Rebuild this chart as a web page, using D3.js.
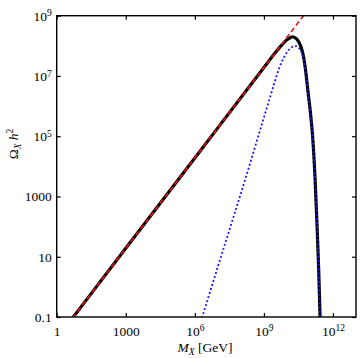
<!DOCTYPE html>
<html><head><meta charset="utf-8">
<script src="https://cdn.jsdelivr.net/npm/d3@7"></script>
<style>
html,body{margin:0;padding:0;background:#fff;}
svg{display:block;}
text{font-family:"Liberation Serif","DejaVu Serif",serif;fill:#000;}
</style></head>
<body>
<svg id="chart" width="360" height="358"></svg>
<script>
// ---- data ----
const xTicks = [1, 1e3, 1e6, 1e9, 1e12];
const xTickLabels = [["1",""],["1000",""],["10","6"],["10","9"],["10","12"]];
const yTicks = [0.1, 10, 1000, 1e5, 1e7, 1e9];
const yTickLabels = [["0.1",""],["10",""],["1000",""],["10","5"],["10","7"],["10","9"]];

// total relic abundance (black)
const totalM = [4, 1e3, 1e6, 1e9, 3.16e9, 6.3e9, 1e10, 1.32e10, 1.74e10, 2.63e10, 4.07e10, 5.01e10, 6.31e10, 8.32e10, 1.05e11, 1.32e11, 1.68e11, 2.04e11, 2.4e11, 2.75e11, 3.0e11];
const totalOmega = [0.076, 19, 1.9e4, 1.9e7, 6.0e7, 1.12e8, 1.58e8, 1.82e8, 2.0e8, 1.7e8, 9.3e7, 5.25e7, 1.78e7, 2.8e6, 6.0e5, 8.9e4, 3.5e3, 102, 3.5, 0.098, 0.016];

// power-law approximation (red dashed)
const approxM = [3, 5.25e10];
const approxOmega = [0.057, 1.0e9];

// second contribution (blue dotted)
const partM = [1.58e6, 2.1e6, 1e7, 4.47e7, 2.0e8, 9.3e8, 1.7e9, 2.8e9, 4.7e9, 7.9e9, 1.26e10, 1.86e10, 2.63e10, 3.55e10, 4.8e10, 6.31e10, 8.32e10, 1.05e11, 1.32e11, 1.68e11, 2.04e11, 2.4e11, 2.75e11, 3.0e11];
const partOmega = [0.05, 0.1, 4.7, 178, 7.1e3, 3.5e5, 1.58e6, 5.6e6, 1.9e7, 4.5e7, 7.6e7, 9.5e7, 9.8e7, 7.9e7, 4.8e7, 1.66e7, 2.7e6, 6.0e5, 8.9e4, 3.5e3, 102, 3.5, 0.098, 0.016];

// ---- layout ----
const L = 56.7, R = 356, T = 15.7, B = 317;
const svg = d3.select("#chart");
const x = d3.scaleLog().domain([1, 1e13]).range([L, R]);
const y = d3.scaleLog().domain([0.1, 1e9]).range([B, T]);

svg.append("clipPath").attr("id","clip").append("rect")
  .attr("x", L).attr("y", T).attr("width", R-L).attr("height", B-T);

const plot = svg.append("g").attr("clip-path","url(#clip)");
const line = d3.line().x(d => x(d[0])).y(d => y(d[1])).curve(d3.curveMonotoneX);
const zip = (a,b) => a.map((v,i) => [v, b[i]]);

plot.append("path").datum(zip(totalM, totalOmega)).attr("d", line)
  .attr("fill","none").attr("stroke","#000").attr("stroke-width",3.2).attr("stroke-linejoin","round");
plot.append("path").datum(zip(approxM, approxOmega)).attr("d", d3.line().x(d=>x(d[0])).y(d=>y(d[1])))
  .attr("fill","none").attr("stroke","#ee1111").attr("stroke-width",1.6).attr("stroke-dasharray","5,3");
plot.append("path").datum(zip(partM, partOmega)).attr("d", line)
  .attr("fill","none").attr("stroke","#1a1aff").attr("stroke-width",1.8).attr("stroke-dasharray","2,2.2");

// ---- axes ----
function labelTicks(sel, labels, vals) {
  sel.selectAll(".tick text").each(function(d){
    const i = vals.indexOf(d);
    const t = d3.select(this); t.text(null);
    t.append("tspan").text(labels[i][0]);
    if (labels[i][1]) t.append("tspan").attr("dy","-0.45em").attr("font-size","9.5px").text(labels[i][1]);
  });
}
const gx = svg.append("g").attr("transform",`translate(0,${B})`)
  .call(d3.axisBottom(x).tickValues(xTicks).tickSizeInner(-4).tickSizeOuter(0).tickPadding(9));
labelTicks(gx, xTickLabels, xTicks);
const gy = svg.append("g").attr("transform",`translate(${L},0)`)
  .call(d3.axisLeft(y).tickValues(yTicks).tickSizeInner(-4).tickSizeOuter(0).tickPadding(5));
labelTicks(gy, yTickLabels, yTicks);
svg.append("g").attr("transform",`translate(0,${T})`)
  .call(d3.axisTop(x).tickValues(xTicks).tickSizeInner(-4).tickSizeOuter(0).tickFormat(""));
svg.append("g").attr("transform",`translate(${R},0)`)
  .call(d3.axisRight(y).tickValues(yTicks).tickSizeInner(-4).tickSizeOuter(0).tickFormat(""));
svg.selectAll(".domain").remove();
svg.selectAll(".tick line").attr("stroke","#000").attr("stroke-width",1.2);
svg.selectAll(".tick text").attr("font-family","Liberation Serif").attr("font-size","13.5px").attr("fill","#000");

svg.append("rect").attr("x",L).attr("y",T).attr("width",R-L).attr("height",B-T)
  .attr("fill","none").attr("stroke","#000").attr("stroke-width",1.4);

// ---- titles ----
const xt = svg.append("text").attr("x", 205).attr("y", 352).attr("text-anchor","middle").attr("font-size","13.5px");
xt.append("tspan").attr("font-style","italic").text("M");
xt.append("tspan").attr("font-style","italic").attr("font-size","9.5px").attr("dy","3").text("X");
xt.append("tspan").attr("dy","-3").text(" [GeV]");

const yt = svg.append("text").attr("transform","translate(18,144) rotate(-90)").attr("text-anchor","middle").attr("font-size","13.5px");
yt.append("tspan").text("Ω");
yt.append("tspan").attr("font-style","italic").attr("font-size","9.5px").attr("dy","3").text("X");
yt.append("tspan").attr("dy","-3").text(" ");
yt.append("tspan").attr("font-style","italic").text("h");
yt.append("tspan").attr("font-size","9.5px").attr("dy","-5").text("2");
</script>
</body></html>
